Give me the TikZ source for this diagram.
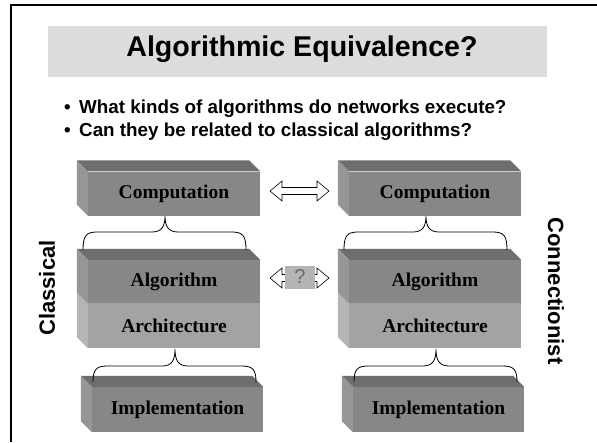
\documentclass[tikz,border=0pt]{standalone}
\usepackage{fontspec}
\setmainfont{Liberation Serif}
\setsansfont{Liberation Sans}
\usetikzlibrary{calc}

\definecolor{topgray}{HTML}{6E6E6E}
\definecolor{frontgray}{HTML}{878787}
\definecolor{sidegray}{HTML}{969696}
\definecolor{archfront}{HTML}{A3A3A3}
\definecolor{archside}{HTML}{B5B5B5}
\definecolor{bandgray}{HTML}{DCDCDC}
\definecolor{qbox}{HTML}{B4B4B4}
\definecolor{qmark}{HTML}{6A6A6A}

% top and left faces of a block whose front face is the node #1
\newcommand\cubefaces[3]{%
  \fill[#2] (#1.north west) -- ([shift={(-11pt,11pt)}]#1.north west)
    -- ([shift={(-11pt,11pt)}]#1.north east) -- (#1.north east) -- cycle;
  \fill[#3] (#1.north west) -- ([shift={(-11pt,11pt)}]#1.north west)
    -- ([shift={(-11pt,11pt)}]#1.south west) -- (#1.south west) -- cycle;
}

\begin{document}
\begin{tikzpicture}[x=1pt,y=-1pt,
  frontface/.style={inner sep=0pt, minimum width=172pt, minimum height=44pt,
    font=\bfseries\fontsize{19.5}{22}\selectfont},
  brace/.style={draw=black, line width=0.8pt},
  blockarrow/.style={draw=black, fill=white, line width=0.6pt},
  heading/.style={font=\sffamily\bfseries\fontsize{28.6}{33}\selectfont},
  bullettext/.style={font=\sffamily\bfseries\fontsize{18.8}{23}\selectfont, anchor=west, inner sep=0pt},
  sidelabel/.style={font=\sffamily\bfseries\fontsize{22}{26}\selectfont, inner sep=0pt}
]
\useasboundingbox (0,0) rectangle (597,442);
\fill[white] (0,0) rectangle (597,442);

% frame
\draw[line width=2pt] (10.5,442) -- (10.5,5) -- (597,5);

% title band
\fill[bandgray] (48,26) rectangle (547,77);
\node[heading] (title) at (302,49) {Algorithmic Equivalence?};

% bullet list
\node[bullettext] (b1dot) at (64,109) {•};
\node[bullettext] (b1) at (79,109) {What kinds of algorithms do networks execute?};
\node[bullettext] (b2dot) at (64,132) {•};
\node[bullettext] (b2) at (79,132) {Can they be related to classical algorithms?};

% classical column
\node[frontface, fill=frontgray] (compL) at (174,193.5) {Computation};
\cubefaces{compL}{topgray}{sidegray}
\node[frontface, fill=archfront, minimum height=45pt] (archL) at (174,325.5) {Architecture};
\cubefaces{archL}{topgray}{archside}
\node[frontface, fill=frontgray, minimum height=43pt] (algoL) at (174,281.5) {Algorithm};
\cubefaces{algoL}{topgray}{sidegray}
\node[frontface, fill=frontgray, minimum width=171pt, minimum height=45pt] (implL) at (177.5,409.5) {Implementation};
\cubefaces{implL}{topgray}{sidegray}

% connectionist column
\node[frontface, fill=frontgray] (compR) at (435,193.5) {Computation};
\cubefaces{compR}{topgray}{sidegray}
\node[frontface, fill=archfront, minimum height=45pt] (archR) at (435,325.5) {Architecture};
\cubefaces{archR}{topgray}{archside}
\node[frontface, fill=frontgray, minimum height=43pt] (algoR) at (435,281.5) {Algorithm};
\cubefaces{algoR}{topgray}{sidegray}
\node[frontface, fill=frontgray, minimum width=171pt, minimum height=45pt] (implR) at (438.5,409.5) {Implementation};
\cubefaces{implR}{topgray}{sidegray}

% braces between levels
\draw[brace] (83,250) .. controls (83,236) and (86,232) .. (97,232) -- (152,232)
  .. controls (162,232) and (165,226) .. (165,216)
  .. controls (165,226) and (168,232) .. (178,232) -- (232,232)
  .. controls (243,232) and (246,236) .. (246,250);
\draw[brace] (93,382) .. controls (93,370) and (96,366) .. (107,366) -- (162,366)
  .. controls (172,366) and (175,360) .. (175,349)
  .. controls (175,360) and (178,366) .. (188,366) -- (242,366)
  .. controls (253,366) and (256,370) .. (256,382);
\draw[brace] (344,250) .. controls (344,236) and (347,232) .. (358,232) -- (413,232)
  .. controls (423,232) and (426,226) .. (426,216)
  .. controls (426,226) and (429,232) .. (439,232) -- (493,232)
  .. controls (504,232) and (507,236) .. (507,250);
\draw[brace] (354,382) .. controls (354,370) and (357,366) .. (368,366) -- (423,366)
  .. controls (433,366) and (436,360) .. (436,349)
  .. controls (436,360) and (439,366) .. (449,366) -- (503,366)
  .. controls (514,366) and (517,370) .. (517,382);

% double arrows between the columns
\coordinate (arrTop) at (299.5,191);
\coordinate (arrMid) at (299.5,278);
\foreach \c in {arrTop,arrMid}{
  \draw[blockarrow] ($(\c)+(-29.5,0)$) -- ++(12,-10) -- ++(0,6.5) -- ++(35,0)
    -- ++(0,-6.5) -- ++(12,10) -- ++(-12,10) -- ++(0,-6.5) -- ++(-35,0)
    -- ++(0,6.5) -- cycle;
}
\node[fill=qbox, minimum width=30pt, minimum height=23pt, inner sep=0pt,
  text=qmark, font=\sffamily\fontsize{20}{22}\selectfont] (qm) at (300,277) {?};

% side labels
\node[sidelabel, rotate=90] (classical) at (47,288) {Classical};
\node[sidelabel, rotate=-90] (connectionist) at (556,291) {Connectionist};
\end{tikzpicture}
\end{document}
